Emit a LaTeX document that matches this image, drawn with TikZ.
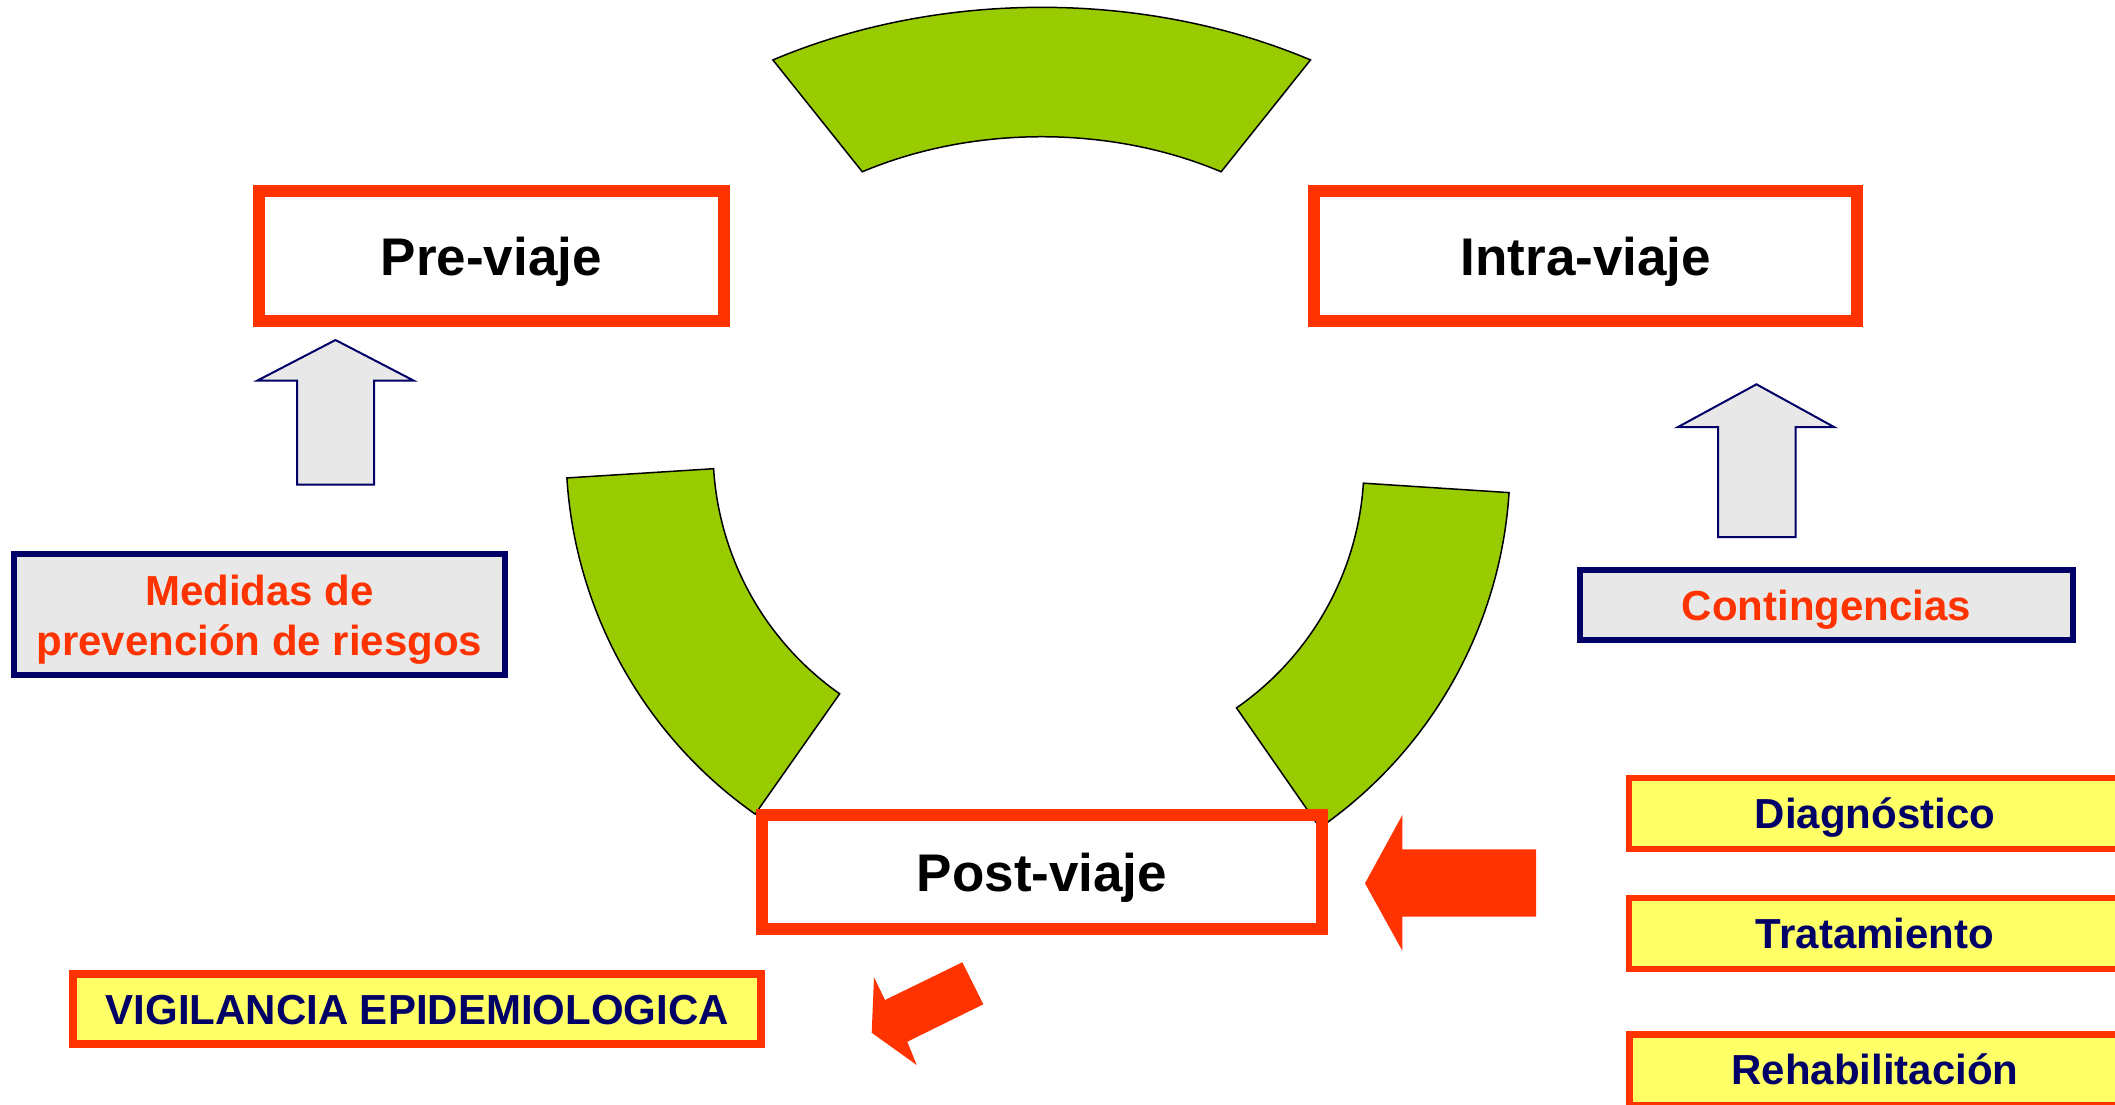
\documentclass[tikz,border=0pt]{standalone}
\usepackage{fontspec}
\setmainfont{Liberation Sans}
\definecolor{myred}{HTML}{FF3300}
\definecolor{mygreen}{HTML}{99CC00}
\definecolor{mynavy}{HTML}{000066}
\definecolor{mygray}{HTML}{E8E8E8}
\definecolor{myyellow}{HTML}{FFFF66}
\tikzset{
  seg/.style={fill=mygreen, draw=black, line width=1.5pt, line join=miter},
  capbig/.style={text height=38pt, text depth=0pt},
  capsmall/.style={text height=30pt, text depth=0pt},
  hdr/.style={draw=myred, line width=12pt, inner sep=0pt, minimum height=130pt,
    font=\fontsize{53}{60}\selectfont\bfseries, text=black, capbig},
  graybox/.style={draw=mynavy, fill=mygray, line width=6pt, inner sep=0pt},
  graytext/.style={font=\fontsize{42}{50}\selectfont\bfseries, text=myred, align=center, inner sep=0pt},
  yelbox/.style={draw=myred, fill=myyellow, line width=6pt, inner sep=0pt,
    minimum width=492pt, minimum height=71pt,
    font=\fontsize{42}{50}\selectfont\bfseries, text=mynavy, capsmall},
  grayarrow/.style={draw=mynavy, fill=mygray, line width=2pt, line join=miter},
  redarrow/.style={fill=myred, draw=none}
}
\begin{document}
\begin{tikzpicture}[x=1pt,y=1pt]
\clip (0,0) rectangle (2115,-1104);
\fill[white] (0,0) rectangle (2115,-1104);

% green segments
\coordinate (cT) at (1041.7,-395);
\coordinate (cL) at (1011,-450);
\coordinate (cR) at (1067,-464);
\draw[seg] ([shift={(59.8:534.4 and 387.7)}]cT)
  arc[start angle=59.8, end angle=120.2, x radius=534.4, y radius=387.7]
  -- ([shift={(120.2:356.7 and 258.3)}]cT)
  arc[start angle=120.2, end angle=59.8, x radius=356.7, y radius=258.3] -- cycle;
\draw[seg] ([shift={(183.6:445)}]cL)
  arc[start angle=183.6, end angle=234.9, radius=445]
  -- ([shift={(234.9:298)}]cL)
  arc[start angle=234.9, end angle=183.6, radius=298] -- cycle;
\draw[seg] ([shift={(-3.7:443)}]cR)
  arc[start angle=-3.7, end angle=-55.2, radius=443]
  -- ([shift={(-55.2:297)}]cR)
  arc[start angle=-55.2, end angle=-3.7, radius=297] -- cycle;

% phase boxes
\node[hdr, minimum width=465pt] (pre) at (491.4,-256.2) {Pre-viaje};
\node[hdr, minimum width=543pt] (intra) at (1585.9,-256.2) {Intra-viaje};
\node[hdr, minimum width=560pt, minimum height=114pt] (post) at (1042,-872) {Post-viaje};

% gray boxes
\node[graybox, minimum width=491pt, minimum height=121.5pt] (medidas) at (259.4,-614.3) {};
\node[graytext] (medidastxt) at ([yshift=-5pt]medidas.center) {Medidas de\\prevención de riesgos};
\node[graybox, minimum width=493pt, minimum height=70pt] (conting) at (1826.5,-605.3) {};
\node[graytext, capsmall] (contingtxt) at (conting.center) {Contingencias};

% gray up arrows
\draw[grayarrow] (335.5,-340) -- (413.5,-380.5) -- (374,-380.5) -- (374,-484.5)
  -- (297,-484.5) -- (297,-380.5) -- (257.5,-380.5) -- cycle;
\draw[grayarrow] (1756.5,-384.3) -- (1834,-427) -- (1795.5,-427) -- (1795.5,-537)
  -- (1718,-537) -- (1718,-427) -- (1678,-427) -- cycle;

% yellow boxes
\node[yelbox] (diag) at (1875,-813.5) {Diagnóstico};
\node[yelbox] (trat) at (1875,-933.7) {Tratamiento};
\node[yelbox, line width=7pt] (rehab) at (1875,-1069.5) {Rehabilitación};
\node[yelbox, line width=8pt, minimum width=688.5pt, minimum height=70.3pt] (vig)
  at (417.2,-1009.2) {VIGILANCIA EPIDEMIOLOGICA};

% red arrows
\fill[redarrow] (1365,-883.3) -- (1402.3,-815) -- (1402.3,-849.3) -- (1536,-849.3)
  -- (1536,-916.7) -- (1402.3,-916.7) -- (1402.3,-950.7) -- cycle;
\fill[redarrow] (874,-977.3) -- (885,-1000) -- (962.3,-962.3) -- (983.3,-1004.3)
  -- (907.3,-1041.7) -- (916.7,-1065) -- (871.7,-1032.7) -- cycle;
\end{tikzpicture}
\end{document}
